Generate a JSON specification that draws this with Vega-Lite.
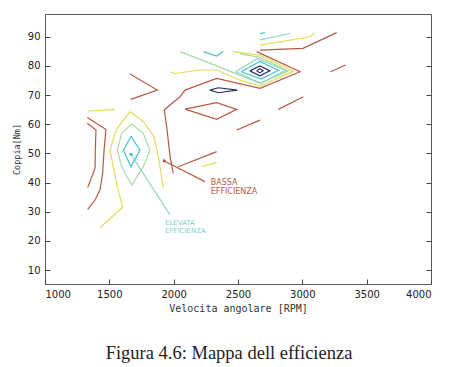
{
  "$schema": "https://vega.github.io/schema/vega-lite/v6.json",
  "autosize": "none",
  "width": 386,
  "height": 270,
  "padding": {"left": 45, "top": 14, "right": 22, "bottom": 83},
  "background": "white",
  "title": {"text": "Figura 4.6: Mappa dell efficienza", "orient": "bottom", "anchor": "middle", "dx": -9, "offset": 31, "font": "Liberation Serif", "fontSize": 18.5, "fontWeight": "normal", "color": "#222"},
  "config": {"view": {"stroke": "#5a5a5a", "strokeWidth": 1}},
  "datasets": {
    "lines": [
      {"id": "R1", "lev": "r", "o": 1, "x": 1329, "y": 62.3}, {"id": "R1", "lev": "r", "o": 2, "x": 1474, "y": 58.2}, {"id": "R1", "lev": "r", "o": 3, "x": 1459, "y": 51.1}, {"id": "R1", "lev": "r", "o": 4, "x": 1448, "y": 43.1}, {"id": "R1", "lev": "r", "o": 5, "x": 1427, "y": 37.4}, {"id": "R1", "lev": "r", "o": 6, "x": 1389, "y": 34.0}, {"id": "R1", "lev": "r", "o": 7, "x": 1332, "y": 30.8},
      {"id": "R2", "lev": "r", "o": 1, "x": 1329, "y": 60.3}, {"id": "R2", "lev": "r", "o": 2, "x": 1396, "y": 58.0}, {"id": "R2", "lev": "r", "o": 3, "x": 1391, "y": 51.1}, {"id": "R2", "lev": "r", "o": 4, "x": 1389, "y": 44.9}, {"id": "R2", "lev": "r", "o": 5, "x": 1332, "y": 38.3},
      {"id": "R3", "lev": "r", "o": 1, "x": 1661, "y": 77.2}, {"id": "R3", "lev": "r", "o": 2, "x": 1873, "y": 71.7}, {"id": "R3", "lev": "r", "o": 3, "x": 1666, "y": 68.5},
      {"id": "R4", "lev": "r", "o": 1, "x": 2645, "y": 84.9}, {"id": "R4", "lev": "r", "o": 2, "x": 2982, "y": 78.0}, {"id": "R4", "lev": "r", "o": 3, "x": 2671, "y": 72.3}, {"id": "R4", "lev": "r", "o": 4, "x": 2334, "y": 75.7}, {"id": "R4", "lev": "r", "o": 5, "x": 2088, "y": 71.7}, {"id": "R4", "lev": "r", "o": 6, "x": 2049, "y": 69.4}, {"id": "R4", "lev": "r", "o": 7, "x": 1972, "y": 66.6}, {"id": "R4", "lev": "r", "o": 8, "x": 1927, "y": 64.9}, {"id": "R4", "lev": "r", "o": 9, "x": 1946, "y": 59.1}, {"id": "R4", "lev": "r", "o": 10, "x": 1972, "y": 48.9}, {"id": "R4", "lev": "r", "o": 11, "x": 1997, "y": 43.1},
      {"id": "R5", "lev": "r", "o": 1, "x": 2036, "y": 45.4}, {"id": "R5", "lev": "r", "o": 2, "x": 2334, "y": 50.6},
      {"id": "R6", "lev": "r", "o": 1, "x": 2088, "y": 65.2}, {"id": "R6", "lev": "r", "o": 2, "x": 2334, "y": 67.4}, {"id": "R6", "lev": "r", "o": 3, "x": 2490, "y": 65.1}, {"id": "R6", "lev": "r", "o": 4, "x": 2334, "y": 61.7}, {"id": "R6", "lev": "r", "o": 5, "x": 2088, "y": 65.2},
      {"id": "R7", "lev": "r", "o": 1, "x": 2490, "y": 58.0}, {"id": "R7", "lev": "r", "o": 2, "x": 2671, "y": 61.4},
      {"id": "R8", "lev": "r", "o": 1, "x": 2813, "y": 65.1}, {"id": "R8", "lev": "r", "o": 2, "x": 3008, "y": 69.4},
      {"id": "R9", "lev": "r", "o": 1, "x": 3220, "y": 78.0}, {"id": "R9", "lev": "r", "o": 2, "x": 3337, "y": 80.3},
      {"id": "R10", "lev": "r", "o": 1, "x": 2671, "y": 85.4}, {"id": "R10", "lev": "r", "o": 2, "x": 3005, "y": 86.0}, {"id": "R10", "lev": "r", "o": 3, "x": 3267, "y": 91.4},
      {"id": "RA", "lev": "r", "o": 1, "x": 1927, "y": 47.4}, {"id": "RA", "lev": "r", "o": 2, "x": 2243, "y": 40.3},
      {"id": "N1", "lev": "n", "o": 1, "x": 2282, "y": 71.7}, {"id": "N1", "lev": "n", "o": 2, "x": 2347, "y": 72.5}, {"id": "N1", "lev": "n", "o": 3, "x": 2495, "y": 71.7}, {"id": "N1", "lev": "n", "o": 4, "x": 2347, "y": 70.8}, {"id": "N1", "lev": "n", "o": 5, "x": 2282, "y": 71.7},
      {"id": "Y1", "lev": "y", "o": 1, "x": 1337, "y": 64.5}, {"id": "Y1", "lev": "y", "o": 2, "x": 1544, "y": 65.1},
      {"id": "Y2", "lev": "y", "o": 1, "x": 1427, "y": 24.5}, {"id": "Y2", "lev": "y", "o": 2, "x": 1604, "y": 31.5}, {"id": "Y2", "lev": "y", "o": 3, "x": 1562, "y": 38.6}, {"id": "Y2", "lev": "y", "o": 4, "x": 1505, "y": 51.1}, {"id": "Y2", "lev": "y", "o": 5, "x": 1552, "y": 58.0}, {"id": "Y2", "lev": "y", "o": 6, "x": 1661, "y": 64.3}, {"id": "Y2", "lev": "y", "o": 7, "x": 1764, "y": 60.9}, {"id": "Y2", "lev": "y", "o": 8, "x": 1847, "y": 55.7}, {"id": "Y2", "lev": "y", "o": 9, "x": 1881, "y": 48.9}, {"id": "Y2", "lev": "y", "o": 10, "x": 1920, "y": 38.0},
      {"id": "Y3", "lev": "y", "o": 1, "x": 2218, "y": 45.4}, {"id": "Y3", "lev": "y", "o": 2, "x": 2334, "y": 46.9},
      {"id": "Y4", "lev": "y", "o": 1, "x": 1972, "y": 78.0}, {"id": "Y4", "lev": "y", "o": 2, "x": 2010, "y": 77.4}, {"id": "Y4", "lev": "y", "o": 3, "x": 2205, "y": 78.6}, {"id": "Y4", "lev": "y", "o": 4, "x": 2334, "y": 78.6}, {"id": "Y4", "lev": "y", "o": 5, "x": 2516, "y": 75.1}, {"id": "Y4", "lev": "y", "o": 6, "x": 2671, "y": 73.1}, {"id": "Y4", "lev": "y", "o": 7, "x": 2930, "y": 78.2}, {"id": "Y4", "lev": "y", "o": 8, "x": 2671, "y": 83.7}, {"id": "Y4", "lev": "y", "o": 9, "x": 2464, "y": 84.9},
      {"id": "Y5", "lev": "y", "o": 1, "x": 2671, "y": 87.1}, {"id": "Y5", "lev": "y", "o": 2, "x": 3060, "y": 90.0}, {"id": "Y5", "lev": "y", "o": 3, "x": 3098, "y": 91.4},
      {"id": "G1", "lev": "g", "o": 1, "x": 1674, "y": 60.1}, {"id": "G1", "lev": "g", "o": 2, "x": 1764, "y": 56.9}, {"id": "G1", "lev": "g", "o": 3, "x": 1816, "y": 51.1}, {"id": "G1", "lev": "g", "o": 4, "x": 1764, "y": 45.4}, {"id": "G1", "lev": "g", "o": 5, "x": 1674, "y": 39.1}, {"id": "G1", "lev": "g", "o": 6, "x": 1596, "y": 45.4}, {"id": "G1", "lev": "g", "o": 7, "x": 1562, "y": 51.1}, {"id": "G1", "lev": "g", "o": 8, "x": 1596, "y": 56.9}, {"id": "G1", "lev": "g", "o": 9, "x": 1674, "y": 60.1},
      {"id": "G2", "lev": "g", "o": 1, "x": 2049, "y": 84.9}, {"id": "G2", "lev": "g", "o": 2, "x": 2256, "y": 81.4}, {"id": "G2", "lev": "g", "o": 3, "x": 2464, "y": 77.7}, {"id": "G2", "lev": "g", "o": 4, "x": 2671, "y": 74.0}, {"id": "G2", "lev": "g", "o": 5, "x": 2891, "y": 78.3}, {"id": "G2", "lev": "g", "o": 6, "x": 2671, "y": 82.9}, {"id": "G2", "lev": "g", "o": 7, "x": 2516, "y": 84.1},
      {"id": "A1", "lev": "a", "o": 1, "x": 2671, "y": 88.9}, {"id": "A1", "lev": "a", "o": 2, "x": 2904, "y": 91.1},
      {"id": "A2", "lev": "a", "o": 1, "x": 2480, "y": 78.0}, {"id": "A2", "lev": "a", "o": 2, "x": 2650, "y": 82.5}, {"id": "A2", "lev": "a", "o": 3, "x": 2870, "y": 78.5}, {"id": "A2", "lev": "a", "o": 4, "x": 2680, "y": 74.0}, {"id": "A2", "lev": "a", "o": 5, "x": 2480, "y": 78.0},
      {"id": "AA", "lev": "a", "o": 1, "x": 1668, "y": 49.7}, {"id": "AA", "lev": "a", "o": 2, "x": 1971, "y": 28.9},
      {"id": "C1", "lev": "c", "o": 1, "x": 1668, "y": 55.9}, {"id": "C1", "lev": "c", "o": 2, "x": 1738, "y": 51.1}, {"id": "C1", "lev": "c", "o": 3, "x": 1668, "y": 45.4}, {"id": "C1", "lev": "c", "o": 4, "x": 1609, "y": 51.1}, {"id": "C1", "lev": "c", "o": 5, "x": 1668, "y": 55.9},
      {"id": "C2", "lev": "c", "o": 1, "x": 2671, "y": 91.1}, {"id": "C2", "lev": "c", "o": 2, "x": 2710, "y": 91.4},
      {"id": "C3", "lev": "c", "o": 1, "x": 2231, "y": 84.9}, {"id": "C3", "lev": "c", "o": 2, "x": 2334, "y": 83.4}, {"id": "C3", "lev": "c", "o": 3, "x": 2386, "y": 84.9},
      {"id": "C4", "lev": "c", "o": 1, "x": 2525, "y": 78.0}, {"id": "C4", "lev": "c", "o": 2, "x": 2670, "y": 81.5}, {"id": "C4", "lev": "c", "o": 3, "x": 2815, "y": 78.5}, {"id": "C4", "lev": "c", "o": 4, "x": 2680, "y": 75.5}, {"id": "C4", "lev": "c", "o": 5, "x": 2525, "y": 78.0},
      {"id": "N2", "lev": "n", "o": 1, "x": 2592, "y": 78.3}, {"id": "N2", "lev": "n", "o": 2, "x": 2670, "y": 80.0}, {"id": "N2", "lev": "n", "o": 3, "x": 2748, "y": 78.3}, {"id": "N2", "lev": "n", "o": 4, "x": 2670, "y": 76.6}, {"id": "N2", "lev": "n", "o": 5, "x": 2592, "y": 78.3},
      {"id": "N3", "lev": "n", "o": 1, "x": 2645, "y": 78.3}, {"id": "N3", "lev": "n", "o": 2, "x": 2670, "y": 79.0}, {"id": "N3", "lev": "n", "o": 3, "x": 2695, "y": 78.3}, {"id": "N3", "lev": "n", "o": 4, "x": 2670, "y": 77.6}, {"id": "N3", "lev": "n", "o": 5, "x": 2645, "y": 78.3}
    ],
    "labels": [
      {"t": "BASSA", "x": 2288, "y": 39.7},
      {"t": "EFFICIENZA", "x": 2288, "y": 36.6}
    ],
    "labels2": [
      {"t": "ELEVATA", "x": 1933, "y": 26.2},
      {"t": "EFFICIENZA", "x": 1933, "y": 23.5}
    ],
    "dots": [
      {"x": 1927, "y": 47.4, "lev": "r"},
      {"x": 1668, "y": 49.7, "lev": "c"}
    ]
  },
  "encoding": {
    "x": {"field": "x", "type": "quantitative", "scale": {"domain": [1000, 4000], "nice": false, "zero": false},
      "axis": {"title": "Velocita angolare [RPM]", "format": "d", "values": [1000, 1500, 2000, 2500, 3000, 3500, 4000], "grid": false, "tickSize": -5, "tickColor": "#444", "domain": false, "labelFont": "DejaVu Sans", "labelFontSize": 10, "labelColor": "#222", "labelPadding": 10, "titleFont": "DejaVu Sans Mono", "titleFontSize": 10, "titleFontWeight": "normal", "titleColor": "#333", "titlePadding": 4}}
  },
  "layer": [
    {
      "data": {"name": "lines"},
      "mark": {"type": "line", "strokeWidth": 1.2, "interpolate": "linear"},
      "encoding": {
        "y": {"field": "y", "type": "quantitative", "scale": {"domain": [5.2, 97.8], "nice": false, "zero": false},
          "axis": {"orient": "left", "title": "Coppia[Nm]", "values": [10, 20, 30, 40, 50, 60, 70, 80, 90], "grid": false, "tickSize": -5, "tickColor": "#444", "domain": false, "labelFont": "DejaVu Sans", "labelFontSize": 10, "labelColor": "#222", "labelPadding": 10, "titleFont": "DejaVu Sans Mono", "titleFontSize": 8.5, "titleFontWeight": "normal", "titleColor": "#333", "titlePadding": 6}},
        "detail": {"field": "id"},
        "order": {"field": "o", "type": "quantitative"},
        "color": {"field": "lev", "type": "nominal", "legend": null, "scale": {"domain": ["r", "y", "g", "a", "c", "n"], "range": ["#b65a47", "#e3dd5c", "#a9dba6", "#8fd5c6", "#45c0d5", "#2c2f5e"]}}
      }
    },
    {
      "data": {"name": "dots"},
      "mark": {"type": "point", "filled": true, "size": 10, "opacity": 1},
      "encoding": {
        "y": {"field": "y", "type": "quantitative", "axis": {"orient": "right", "title": null, "labels": false, "values": [10, 20, 30, 40, 50, 60, 70, 80, 90], "grid": false, "tickSize": -5, "tickColor": "#444", "domain": false}},
        "color": {"field": "lev", "type": "nominal", "legend": null}
      }
    },
    {
      "data": {"name": "labels"},
      "mark": {"type": "text", "align": "left", "baseline": "middle", "font": "DejaVu Sans", "fontSize": 8, "color": "#b65a47"},
      "encoding": {
        "y": {"field": "y", "type": "quantitative", "axis": null},
        "text": {"field": "t"}
      }
    },
    {
      "data": {"name": "labels2"},
      "mark": {"type": "text", "align": "left", "baseline": "middle", "font": "DejaVu Sans", "fontSize": 7, "color": "#7fd1c8"},
      "encoding": {
        "y": {"field": "y", "type": "quantitative", "axis": null},
        "text": {"field": "t"}
      }
    }
  ],
  "resolve": {"axis": {"y": "independent"}}
}
